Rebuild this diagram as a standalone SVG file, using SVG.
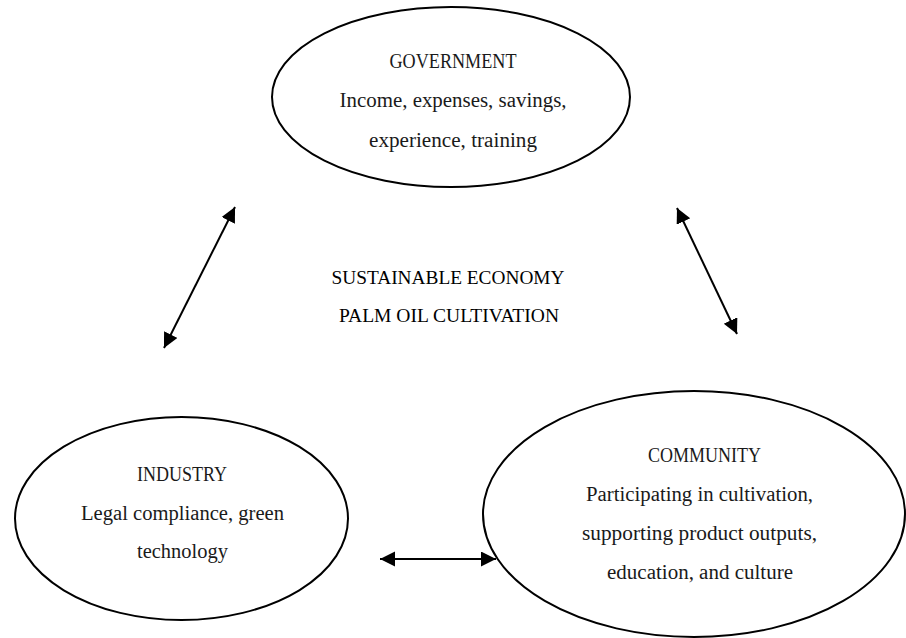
<svg xmlns="http://www.w3.org/2000/svg" width="906" height="638" viewBox="0 0 906 638">
<style>
.node ellipse{fill:#fff;stroke:#000;stroke-width:2}
.t{font-family:"Liberation Serif","Times New Roman",serif;font-size:20px;fill:#1a1a1a;text-anchor:middle}
.c{font-family:"Liberation Serif","Times New Roman",serif;font-size:19px;fill:#000;text-anchor:middle}
#connectors line{stroke:#000;stroke-width:2;marker-start:url(#ah);marker-end:url(#ah)}
</style>
<defs>
<marker id="ah" markerUnits="userSpaceOnUse" markerWidth="16" markerHeight="16" refX="15" refY="7.5" orient="auto-start-reverse" viewBox="0 0 16 16">
<path d="M0,0 L15,7.5 L0,15 z" fill="#000"/>
</marker>
</defs>
<rect width="906" height="638" fill="#fff"/>
<g id="connectors">
<line x1="235" y1="207" x2="164" y2="348"/>
<line x1="677" y1="208" x2="737" y2="334"/>
<line x1="380" y1="559" x2="496" y2="559"/>
</g>
<g id="government" class="node">
<ellipse cx="451" cy="97" rx="179" ry="90"/>
<text class="t" x="453" y="68" textLength="127" lengthAdjust="spacingAndGlyphs">GOVERNMENT</text>
<text class="t" x="453" y="107" textLength="227" lengthAdjust="spacingAndGlyphs">Income, expenses, savings,</text>
<text class="t" x="453" y="147" textLength="168" lengthAdjust="spacingAndGlyphs">experience, training</text>
</g>
<g id="center">
<text class="c" x="448" y="284" textLength="233" lengthAdjust="spacingAndGlyphs">SUSTAINABLE ECONOMY</text>
<text class="c" x="449" y="322" textLength="220" lengthAdjust="spacingAndGlyphs">PALM OIL CULTIVATION</text>
</g>
<g id="industry" class="node">
<ellipse cx="181.5" cy="518.5" rx="166.5" ry="101.5"/>
<text class="t" x="182" y="481" textLength="90" lengthAdjust="spacingAndGlyphs">INDUSTRY</text>
<text class="t" x="182.5" y="520" textLength="203" lengthAdjust="spacingAndGlyphs">Legal compliance, green</text>
<text class="t" x="182.5" y="558" textLength="91" lengthAdjust="spacingAndGlyphs">technology</text>
</g>
<g id="community" class="node">
<ellipse cx="694" cy="514" rx="211" ry="123"/>
<text class="t" x="704.5" y="462" textLength="113" lengthAdjust="spacingAndGlyphs">COMMUNITY</text>
<text class="t" x="699.5" y="501" textLength="227" lengthAdjust="spacingAndGlyphs">Participating in cultivation,</text>
<text class="t" x="699.5" y="540" textLength="235" lengthAdjust="spacingAndGlyphs">supporting product outputs,</text>
<text class="t" x="700" y="579" textLength="186" lengthAdjust="spacingAndGlyphs">education, and culture</text>
</g>
</svg>
